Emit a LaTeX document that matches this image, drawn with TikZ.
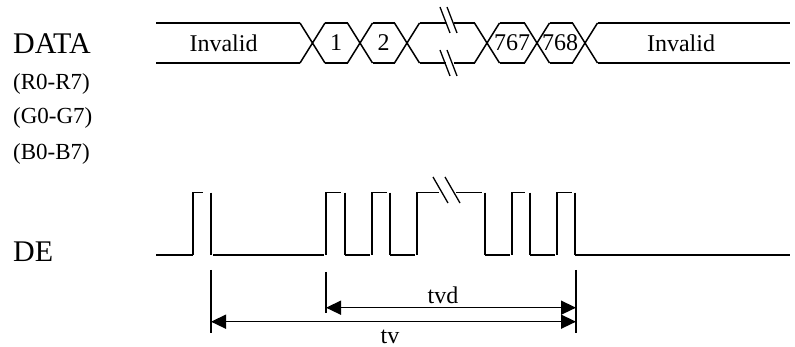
\documentclass[tikz,border=0pt]{standalone}
\usepackage{fontspec}
\setmainfont{Liberation Serif}
\usepackage{tikz}
\usetikzlibrary{arrows.meta,positioning,calc}

\begin{document}
\begin{tikzpicture}[
    x=1pt, y=-1pt,
    sig/.style={line width=1.5pt, black},
    brk/.style={line width=1.3pt, black},
    dim/.style={line width=1.5pt, {Triangle[length=15pt,width=14pt]}-{Triangle[length=15pt,width=14pt]}},
    ext/.style={line width=1.5pt},
    biglbl/.style={anchor=west, inner sep=0pt, font=\fontsize{30}{34}\selectfont},
    buslbl/.style={anchor=west, inner sep=0pt, font=\fontsize{23}{26}\selectfont},
    cell/.style={inner sep=0pt, font=\fontsize{24}{28}\selectfont}
]
    \useasboundingbox (0,0) rectangle (795,347);

    % Signal names
    \node[biglbl] (data) at (13,44) {DATA};
    \node[buslbl] (red) at (13,84) {(R0-R7)};
    \node[buslbl] (green) at (13,118) {(G0-G7)};
    \node[buslbl] (blue) at (13,154) {(B0-B7)};
    \node[biglbl] (de) at (13,252) {DE};

    % DATA bus
    \foreach \c in {312.5,360,407,487,537,585}
        \draw[sig] (\c-12.5,23) -- (\c+12.5,63) (\c-12.5,63) -- (\c+12.5,23);
    \foreach \a/\b in {156/300, 325/347.5, 372.5/394.5, 499.5/524.5, 549.5/572.5, 597.5/790}
        \draw[sig] (\a,23) -- (\b,23) (\a,63) -- (\b,63);
    \draw[sig] (419.5,23) -- (446,23) (454,23) -- (474.5,23);
    \draw[sig] (419.5,63) -- (446,63) (454,63) -- (474.5,63);
    \foreach \y in {20,63}
        \draw[brk] (440,\y-13) -- (450,\y+13) (447,\y-13) -- (457,\y+13);

    \node[cell] (inv1) at (223.5,43) {Invalid};
    \node[cell] (px1) at (336,43) {1};
    \node[cell] (px2) at (383.5,43) {2};
    \node[cell] (px767) at (512,43) {767};
    \node[cell] (px768) at (560,43) {768};
    \node[cell] (inv2) at (681,43) {Invalid};

    % DE
    \foreach \a/\b in {156/193, 213/324, 345/370, 390/415, 485/510, 530/555, 575/790}
        \draw[sig] (\a,255) -- (\b,255);
    \foreach \r/\t/\f in {193/203/211, 326/341/345, 372/387/390, 512/525/530, 557/572/575}
        \draw[sig] (\r,255) -- (\r,192.7) -- (\t,192.7) (\f,192.7) -- (\f,255);
    \draw[sig] (417,255) -- (417,192.7) -- (439,192.7) (456,192.7) -- (482,192.7)
               (485,192.7) -- (485,255);
    \draw[brk] (433,177) -- (448,203) (445,177) -- (460,203);

    % Timing
    \coordinate (tvA) at (211,321.7);
    \coordinate (tvB) at (576,321.7);
    \coordinate (tvdA) at (326,307.7);
    \coordinate (tvdB) at (576,307.7);
    \draw[ext] (211,270) -- (211,333);
    \draw[ext] (326,272) -- (326,313);
    \draw[ext] (576,270) -- (576,333);
    \draw[dim] (tvdA) -- (tvdB);
    \draw[dim] (tvA) -- (tvB);
    \node[cell] (tvd) at (443,295) {tvd};
    \node[cell] (tv) at (390,336.5) {tv};
\end{tikzpicture}
\end{document}
